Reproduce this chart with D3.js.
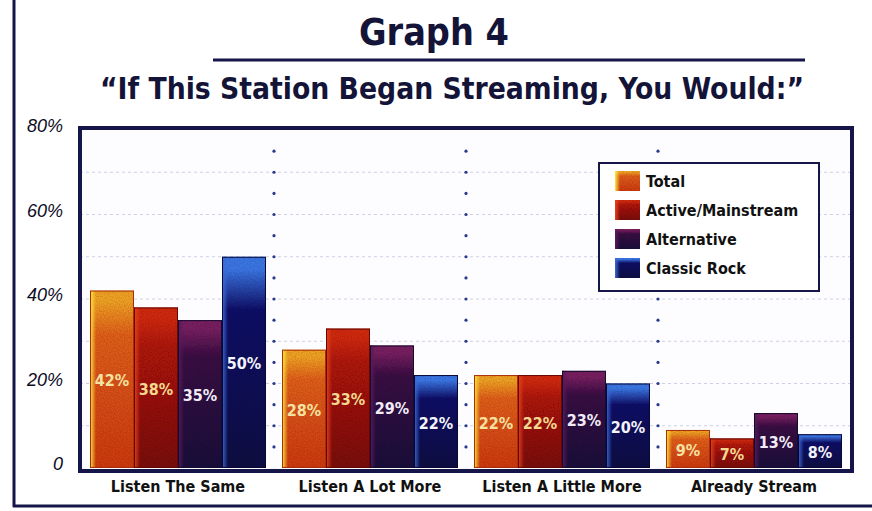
<!DOCTYPE html>
<html>
<head>
<meta charset="utf-8">
<script src="https://cdn.jsdelivr.net/npm/d3@7"></script>
<style>
  body { margin: 0; background: #fff; }
  svg { display: block; }
</style>
</head>
<body>
<div id="chart"></div>
<script>
// chart values
var categories = ["Listen The Same", "Listen A Lot More", "Listen A Little More", "Already Stream"];
var seriesNames = ["Total", "Active/Mainstream", "Alternative", "Classic Rock"];
var total = [42, 28, 22, 9];
var active = [38, 33, 22, 7];
var alternative = [35, 29, 23, 13];
var classicRock = [50, 22, 20, 8];
var yTicks = [0, 20, 40, 60, 80];
var gridSteps = d3.range(5, 80, 5);

var series = [total, active, alternative, classicRock];
var navy = "#15154a";
var condensed = "'Liberation Sans Narrow', 'DejaVu Sans Condensed', 'Roboto Condensed', sans-serif";

// bar looks: top colour, bottom colour, left-edge highlight, label colour
var looks = [
  { top: "#f4a424", mid: "#e4601a", bot: "#d03a10", edge: "#ffe83a", label: "#f6e2a0" },
  { top: "#d42a0a", mid: "#b01608", bot: "#7c0a08", edge: "#e8401a", label: "#f4d890" },
  { top: "#7a2062", mid: "#3a0c44", bot: "#1a0c3c", edge: "#5a1a5a", label: "#f2ecf8" },
  { top: "#3c78e8", mid: "#10106a", bot: "#0a0a44", edge: "#3a6ad8", label: "#f4f4fc" }
];

var width = 872, height = 511;
var svg = d3.select("#chart").append("svg")
  .attr("width", width)
  .attr("height", height);

var defs = svg.append("defs");

// gradients for each series
looks.forEach(function (lk, i) {
  var g = defs.append("linearGradient")
    .attr("id", "grad" + i)
    .attr("x1", 0).attr("y1", 0).attr("x2", 0).attr("y2", 1);
  g.append("stop").attr("offset", "0%").attr("stop-color", lk.top);
  g.append("stop").attr("offset", "6%").attr("stop-color", lk.top);
  g.append("stop").attr("offset", "25%").attr("stop-color", lk.mid);
  g.append("stop").attr("offset", "100%").attr("stop-color", lk.bot);

  var h = defs.append("linearGradient")
    .attr("id", "edge" + i)
    .attr("x1", 0).attr("y1", 0).attr("x2", 1).attr("y2", 0);
  h.append("stop").attr("offset", "0%").attr("stop-color", lk.edge).attr("stop-opacity", 1);
  h.append("stop").attr("offset", "100%").attr("stop-color", lk.edge).attr("stop-opacity", 0);
});

// speckle texture, like the printed screen of the original
var f = defs.append("filter").attr("id", "grain")
  .attr("x", 0).attr("y", 0).attr("width", 1).attr("height", 1);
f.append("feTurbulence").attr("type", "fractalNoise")
  .attr("baseFrequency", 0.8).attr("numOctaves", 1).attr("seed", 3).attr("result", "noise");
f.append("feColorMatrix").attr("in", "noise").attr("type", "matrix")
  .attr("values", "0 0 0 0 0  0 0 0 0 0  0 0 0 0 0  0 0 0 0.7 -0.22")
  .attr("result", "dots");
f.append("feComposite").attr("in", "dots").attr("in2", "SourceGraphic").attr("operator", "atop");

// shrink a text's font until it fits the wanted width
function fitText(sel, target, size) {
  sel.style("font-size", size + "px");
  var w = sel.node().getComputedTextLength();
  if (w > 0) sel.style("font-size", (size * target / w).toFixed(2) + "px");
}

// outer frame: left rule and bottom rule
svg.append("line")
  .attr("x1", 14).attr("x2", 14).attr("y1", 0).attr("y2", 507)
  .attr("stroke", navy).attr("stroke-width", 3);
svg.append("line")
  .attr("x1", 13).attr("x2", 872).attr("y1", 506).attr("y2", 506)
  .attr("stroke", navy).attr("stroke-width", 3);

// titles
var title = svg.append("text")
  .attr("x", 434).attr("y", 45)
  .attr("text-anchor", "middle")
  .style("font-family", condensed).style("font-weight", "bold")
  .attr("fill", "#141438")
  .text("Graph 4");
fitText(title, 150, 40);

svg.append("line")
  .attr("x1", 213).attr("x2", 805).attr("y1", 60).attr("y2", 60)
  .attr("stroke", navy).attr("stroke-width", 3);

var subtitle = svg.append("text")
  .attr("x", 452).attr("y", 99)
  .attr("text-anchor", "middle")
  .style("font-family", condensed).style("font-weight", "bold")
  .attr("fill", "#141438")
  .text("\u201CIf This Station Began Streaming, You Would:\u201D");
fitText(subtitle, 704, 34);

// scales
var plot = { left: 80, right: 852, top: 128, bottom: 471 };
var x0 = d3.scaleBand().domain(categories).range([82, 850]).padding(0);
var x1 = d3.scaleBand().domain(d3.range(series.length)).range([8, 184]).padding(0);
var y = d3.scaleLinear().domain([0, 80]).range([468, 130]);

// plot background
svg.append("rect")
  .attr("x", plot.left).attr("y", plot.top)
  .attr("width", plot.right - plot.left).attr("height", plot.bottom - plot.top)
  .attr("fill", "#fdfdff");

// faint horizontal grid
svg.append("g")
  .selectAll("line")
  .data(d3.range(10, 80, 10))
  .join("line")
  .attr("x1", plot.left).attr("x2", plot.right)
  .attr("y1", function (d) { return y(d); }).attr("y2", function (d) { return y(d); })
  .attr("stroke", "#cdd0e4").attr("stroke-width", 1)
  .attr("stroke-dasharray", "3,3");

// dotted dividers between categories
var dividers = categories.slice(1).map(function (c) { return x0(c); });
var dotData = [];
dividers.forEach(function (dx) {
  gridSteps.forEach(function (s) { dotData.push({ x: dx, v: s }); });
});
svg.append("g")
  .selectAll("circle")
  .data(dotData)
  .join("circle")
  .attr("cx", function (d) { return d.x; })
  .attr("cy", function (d) { return y(d.v); })
  .attr("r", 1.6)
  .attr("fill", "#2a3a8a");

// bars
var groups = svg.append("g")
  .selectAll("g")
  .data(categories)
  .join("g")
  .attr("transform", function (d) { return "translate(" + x0(d) + ",0)"; });

var bars = groups.selectAll("g")
  .data(function (d, ci) {
    return series.map(function (s, si) { return { si: si, value: s[ci] }; });
  })
  .join("g");

bars.append("rect")
  .attr("x", function (d) { return x1(d.si); })
  .attr("y", function (d) { return y(d.value); })
  .attr("width", x1.bandwidth())
  .attr("height", function (d) { return y(0) - y(d.value); })
  .attr("fill", function (d) { return "url(#grad" + d.si + ")"; })
  .attr("filter", "url(#grain)");

bars.append("rect")
  .attr("x", function (d) { return x1(d.si); })
  .attr("y", function (d) { return y(d.value); })
  .attr("width", 6)
  .attr("height", function (d) { return y(0) - y(d.value); })
  .attr("fill", function (d) { return "url(#edge" + d.si + ")"; });

bars.append("rect")
  .attr("x", function (d) { return x1(d.si) + 0.5; })
  .attr("y", function (d) { return y(d.value) + 0.5; })
  .attr("width", x1.bandwidth() - 1)
  .attr("height", function (d) { return y(0) - y(d.value) - 1; })
  .attr("fill", "none")
  .attr("stroke", function (d) { return d3.color(looks[d.si].bot).darker(0.6); })
  .attr("stroke-width", 1);

bars.append("text")
  .attr("x", function (d) { return x1(d.si) + x1.bandwidth() / 2; })
  .attr("y", function (d) { return (y(d.value) + y(0)) / 2 + 7; })
  .attr("text-anchor", "middle")
  .style("font-family", condensed).style("font-weight", "bold")
  .style("font-size", "16px")
  .attr("fill", function (d) { return looks[d.si].label; })
  .text(function (d) { return d.value + "%"; });

// plot border
svg.append("rect")
  .attr("x", plot.left).attr("y", plot.top)
  .attr("width", plot.right - plot.left).attr("height", plot.bottom - plot.top)
  .attr("fill", "none").attr("stroke", navy).attr("stroke-width", 4);

// y axis labels
var yAxis = svg.append("g")
  .attr("transform", "translate(66,0)")
  .call(d3.axisLeft(y).tickValues(yTicks).tickSize(0)
    .tickFormat(function (d) { return d === 0 ? "0" : d + "%"; }));
yAxis.select(".domain").remove();
yAxis.selectAll("text")
  .attr("dy", "0.1em")
  .style("font-family", "'Liberation Sans', Arial, sans-serif")
  .style("font-style", "italic")
  .style("font-size", "18px")
  .attr("fill", "#0c0c24");

// category labels
svg.append("g")
  .selectAll("text")
  .data(categories)
  .join("text")
  .attr("x", function (d) { return x0(d) + 96; })
  .attr("y", 492)
  .attr("text-anchor", "middle")
  .style("font-family", condensed).style("font-weight", "bold")
  .style("font-size", "16px").attr("fill", "#111")
  .text(function (d) { return d; });

// legend
var legend = svg.append("g").attr("transform", "translate(599,163)");
legend.append("rect")
  .attr("width", 220).attr("height", 128)
  .attr("fill", "#fff").attr("stroke", navy).attr("stroke-width", 2);

var legendY = d3.scalePoint().domain(seriesNames).range([18, 105]);
var items = legend.selectAll("g.item")
  .data(seriesNames)
  .join("g")
  .attr("class", "item")
  .attr("transform", function (d) { return "translate(16," + legendY(d) + ")"; });

items.append("rect")
  .attr("x", 0).attr("y", -10)
  .attr("width", 25).attr("height", 20)
  .attr("fill", function (d, i) { return "url(#grad" + i + ")"; })
  .attr("filter", "url(#grain)");
items.append("rect")
  .attr("x", 0).attr("y", -10)
  .attr("width", 5).attr("height", 20)
  .attr("fill", function (d, i) { return "url(#edge" + i + ")"; });

items.append("text")
  .attr("x", 31).attr("y", 6)
  .style("font-family", condensed).style("font-weight", "bold")
  .style("font-size", "16px").attr("fill", "#111")
  .text(function (d) { return d; });
</script>
</body>
</html>
